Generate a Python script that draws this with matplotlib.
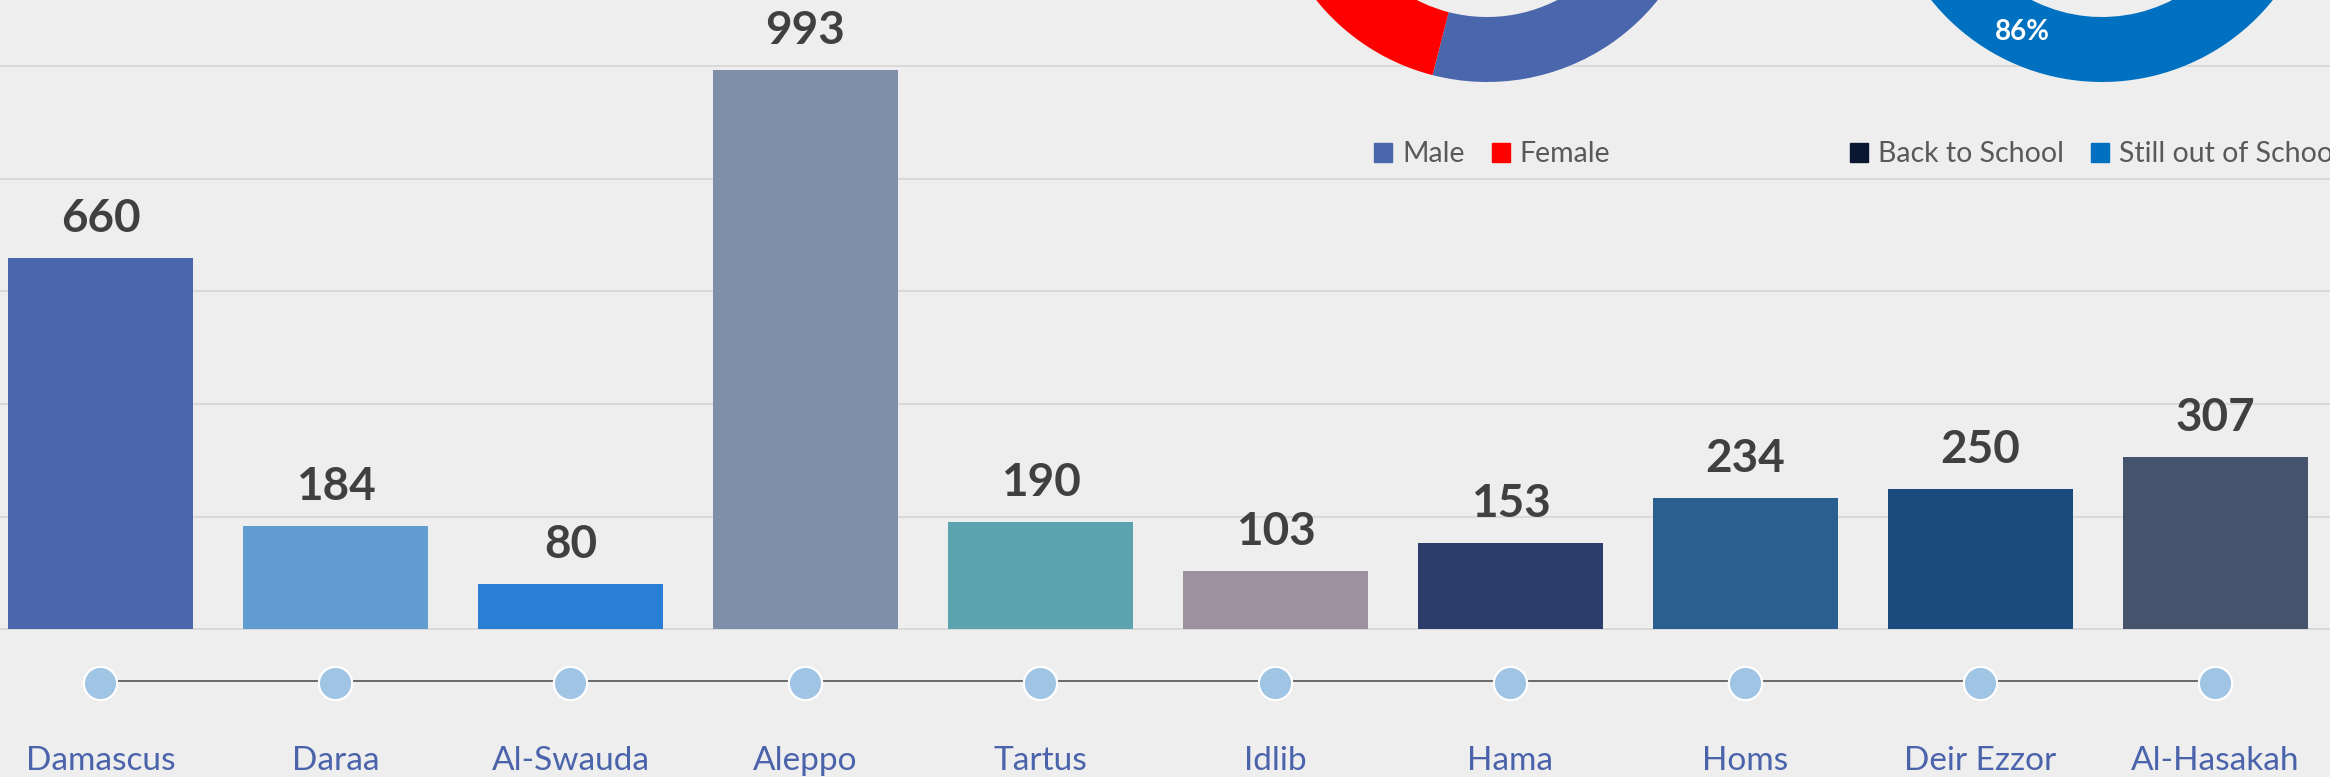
import matplotlib
matplotlib.use('Agg')
import matplotlib.pyplot as plt
from matplotlib.patches import Patch
import numpy as np

# ---------------- data ----------------
cities = ['Damascus', 'Daraa', 'Al-Swauda', 'Aleppo', 'Tartus',
          'Idlib', 'Hama', 'Homs', 'Deir Ezzor', 'Al-Hasakah']
counts = [660, 184, 80, 993, 190, 103, 153, 234, 250, 307]
bar_colors = ['#4A67AD', '#629DD1', '#2A7FD4', '#7F8FA9', '#5BA3AE',
              '#9E909F', '#2C3C6B', '#2A5F8F', '#1A4A7E', '#45546C']

gender_labels = ['Male', 'Female']
gender_share = [54, 46]
gender_colors = ['#4A67AD', '#FF0000']

school_labels = ['Back to School', 'Still out of School']
school_share = [14, 86]
school_colors = ['#0B1730', '#0070C0']

# ---------------- figure ----------------
W, H = 2330, 777
DPI = 100
plt.rcParams['font.family'] = ['Lato', 'DejaVu Sans']
fig = plt.figure(figsize=(W / DPI, H / DPI), dpi=DPI, facecolor='#EEEEEE')


def px_axes(left, top, width, height):
    return fig.add_axes([left / W, 1 - (top + height) / H, width / W, height / H])


# main bar axes spanning the whole canvas
ax = fig.add_axes([0, 0, 1, 1])
ax.set_facecolor('none')
x = np.arange(len(cities))
xlim = (-100.5 / 235, (W - 100.5) / 235)
ax.set_xlim(*xlim)
ax.set_ylim(-262, 1117.5)
ax.set_yticks(np.arange(0, 1001, 200))
ax.grid(axis='y', color='#D9D9D9', lw=1.4)
ax.grid(axis='x', visible=False)
ax.set_axisbelow(True)
ax.tick_params(left=False, bottom=False, labelleft=False, labelbottom=False)
for s in ax.spines.values():
    s.set_visible(False)

ax.bar(x, counts, width=185 / 235, color=bar_colors, zorder=2)
for xi, v in zip(x, counts):
    ax.annotate(f'{v}', (xi, v), xytext=(0, 18.7), textcoords='offset points',
                ha='center', va='baseline', fontsize=33, fontweight='bold',
                color='#404040')

# timeline overlay (y in pixel rows from top)
tl = fig.add_axes([0, 0, 1, 1])
tl.set_facecolor('none')
tl.set_xlim(*xlim)
tl.set_ylim(H, 0)
tl.axis('off')
tl.plot([x[0], x[-1]], [681, 681], color='#5F5F5F', lw=1.3, zorder=1)
tl.scatter(x, np.full(len(x), 683), s=24 ** 2, color='#A0C4E3',
           edgecolors='white', linewidths=1.6, zorder=3)
for xi, name in zip(x, cities):
    tl.text(xi, 770, name, ha='center', va='baseline', fontsize=24,
            color='#4A63AB')

# donuts
R = 219
ring = (219 - 154) / 219


def donut(cx, cy, vals, cols, show_pct):
    d = px_axes(cx - R, cy - R, 2 * R, 2 * R)
    d.pie(vals, colors=cols, startangle=90, counterclock=False,
          radius=1, wedgeprops=dict(width=ring, edgecolor='none'))
    # only the percentage that falls inside the visible canvas is shown
    total = sum(vals)
    start = 90.0
    for v in vals:
        sweep = 360.0 * v / total
        mid = np.deg2rad(start - sweep / 2)
        start -= sweep
        px, py = (1 - ring / 2) * np.cos(mid), (1 - ring / 2) * np.sin(mid)
        if show_pct and py < -0.5:
            d.text(px, py, f'{v}%', ha='center', va='center', color='white',
                   fontsize=20, fontweight='bold')
    d.set_xlim(-1, 1)
    d.set_ylim(-1, 1)
    d.axis('off')
    return d


donut(1487, -137, gender_share, gender_colors, True)
donut(2102, -137, school_share, school_colors, True)

# legends
fs = 20.5
fpx = fs * DPI / 72
common = dict(loc='center left', ncol=2, frameon=False, fontsize=fs,
              handlelength=18 / fpx, handleheight=18 / fpx, handletextpad=10 / fpx,
              columnspacing=27 / fpx, borderpad=0, borderaxespad=0,
              labelcolor='#595959')
fig.legend(handles=[Patch(color=c, label=l) for l, c in zip(gender_labels, gender_colors)],
           bbox_to_anchor=(1374 / W, 1 - 154.5 / H), **common)
fig.legend(handles=[Patch(color=c, label=l) for l, c in zip(school_labels, school_colors)],
           bbox_to_anchor=(1850 / W, 1 - 154.5 / H), **common)

fig.savefig('out.png', dpi=DPI, facecolor=fig.get_facecolor())
